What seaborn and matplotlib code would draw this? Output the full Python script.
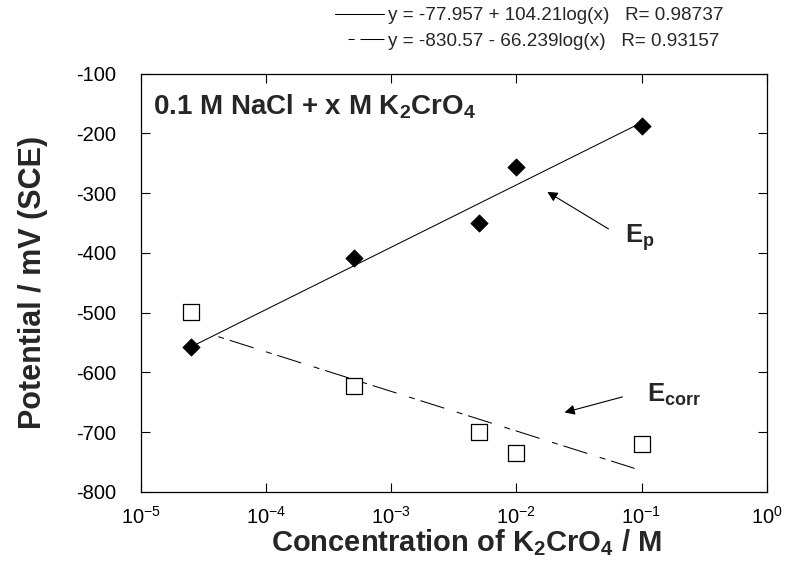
import numpy as np
import pandas as pd
import matplotlib
matplotlib.use("Agg")
import matplotlib.pyplot as plt
import seaborn as sns

# ---- data ----
conc = [2.5e-5, 5e-4, 5e-3, 1e-2, 1e-1]
ep = [-558, -408, -350, -257, -188]
ecorr = [-499, -623, -700, -735, -719]

ep_fit_a, ep_fit_b, ep_R = -77.957, 104.21, 0.98737
ec_fit_a, ec_fit_b, ec_R = -830.57, -66.239, 0.93157
ep_fit_range = [2.8e-5, 0.1]
ec_fit_range = [3.3e-5, 0.088]

xticks = [1e-5, 1e-4, 1e-3, 1e-2, 1e-1, 1e0]
xticklabels = ["10$^{-5}$", "10$^{-4}$", "10$^{-3}$", "10$^{-2}$", "10$^{-1}$", "10$^{0}$"]
yticks = [-800, -700, -600, -500, -400, -300, -200, -100]

sns.set_theme(style="ticks")
plt.rcParams["font.family"] = ["Liberation Sans", "DejaVu Sans"]
plt.rcParams["mathtext.fontset"] = "custom"
plt.rcParams["mathtext.rm"] = "Liberation Sans"
plt.rcParams["mathtext.it"] = "Liberation Sans:italic"
plt.rcParams["mathtext.bf"] = "Liberation Sans:bold"
plt.rcParams["axes.unicode_minus"] = False
plt.rcParams["lines.scale_dashes"] = False

fig = plt.figure(figsize=(7.92, 5.72), dpi=100)
ax = fig.add_axes([0.178, 0.140, 0.790, 0.7315])

df_pts = pd.DataFrame({"conc": conc, "ep": ep, "ecorr": ecorr})

# fit lines from the equations shown in the legend
ep_x = np.array(ep_fit_range)
ec_x = np.array(ec_fit_range)
df_epfit = pd.DataFrame({"x": ep_x, "y": ep_fit_a + ep_fit_b * np.log10(ep_x)})
df_ecfit = pd.DataFrame({"x": ec_x, "y": ec_fit_a + ec_fit_b * np.log10(ec_x)})

sns.lineplot(data=df_epfit, x="x", y="y", ax=ax, color="black", lw=0.75,
             label=f"y = {ep_fit_a} + {ep_fit_b}log(x)   R= {ep_R}")
sns.lineplot(data=df_ecfit, x="x", y="y", ax=ax, color="black", lw=0.75,
             linestyle=(18, (18, 9.4, 4.3, 4.3)),
             label=f"y = {ec_fit_a} - {abs(ec_fit_b)}log(x)   R= {ec_R}")

sns.scatterplot(data=df_pts, x="conc", y="ep", ax=ax, marker="D", s=75,
                color="black", edgecolor="black", zorder=5, legend=False)
sns.scatterplot(data=df_pts, x="conc", y="ecorr", ax=ax, marker="s", s=120,
                facecolor="white", edgecolor="black", linewidth=0.9, zorder=5, legend=False)

ax.set_xscale("log")
ax.set_xlim(1e-5, 1e0)
ax.set_ylim(-800, -100)
ax.set_xticks(xticks)
ax.set_xticklabels(xticklabels)
ax.set_yticks(yticks)
ax.minorticks_off()
ax.tick_params(direction="in", top=True, right=True, length=6.5, width=0.8,
               labelsize=14.5, colors="black")
ax.tick_params(axis="y", pad=18)
ax.tick_params(axis="x", pad=10)
for s in ax.spines.values():
    s.set_linewidth(0.9)
    s.set_color("black")

ax.set_xlabel("Concentration of K$_\\mathbf{2}$CrO$_\\mathbf{4}$ / M",
              fontsize=21, fontweight="bold", labelpad=2)
ax.xaxis.set_label_coords(0.52, -0.085)
ax.set_ylabel("Potential / mV (SCE)", fontsize=22, fontweight="bold", labelpad=20)

ax.text(0.019, 0.903, "0.1 M NaCl + x M K$_\\mathbf{2}$CrO$_\\mathbf{4}$",
        transform=ax.transAxes, fontsize=20, fontweight="bold", va="baseline", ha="left")

ax.annotate("", xy=(10**-1.753, -298), xytext=(10**-1.264, -360),
            arrowprops=dict(arrowstyle="-|>", color="black", lw=0.8,
                            mutation_scale=15, shrinkA=0, shrinkB=0))
ax.text(10**-1.136, -383, "E$_\\mathbf{p}$", fontsize=18.5, fontweight="bold",
        ha="left", va="baseline")

ax.annotate("", xy=(10**-1.615, -667), xytext=(10**-1.152, -641),
            arrowprops=dict(arrowstyle="-|>", color="black", lw=0.8,
                            mutation_scale=15, shrinkA=0, shrinkB=0))
ax.text(10**-0.96, -650, "E$_\\mathbf{corr}$", fontsize=18.5, fontweight="bold",
        ha="left", va="baseline")

leg = ax.legend(loc="upper right", bbox_to_anchor=(723 / 792, 1 - 7 / 572),
                bbox_transform=fig.transFigure, frameon=False,
                fontsize=13.6, handlelength=2.6, labelspacing=0.45, borderaxespad=0,
                borderpad=0.0, handletextpad=0.2)

fig.savefig("out.png", dpi=100)
